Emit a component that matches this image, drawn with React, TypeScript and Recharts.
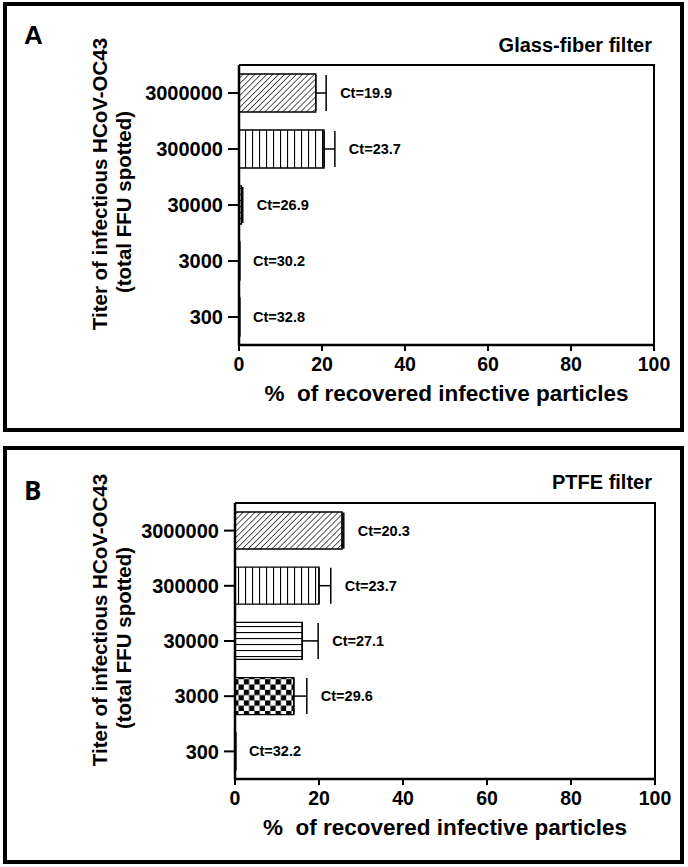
import React from "react";
import { BarChart, Bar, XAxis, YAxis, ErrorBar, LabelList, Cell } from "recharts";

const titers = ["3000000", "300000", "30000", "3000", "300"];
const xTicks = [0, 20, 40, 60, 80, 100];

// Glass-fiber filter (panel A)
const glassValues = [18.5, 20.5, 0.6, 0, 0];
const glassErrors = [2.5, 2.6, 0.3, 0, 0];
const glassCt = ["19.9", "23.7", "26.9", "30.2", "32.8"];

// PTFE filter (panel B)
const ptfeValues = [25.5, 20.0, 16.0, 14.0, 0];
const ptfeErrors = [0.4, 2.8, 3.8, 3.1, 0];
const ptfeCt = ["20.3", "23.7", "27.1", "29.6", "32.2"];

const FILLS = ["diag", "vert", "horiz", "check", "none"];
const FONT = "'Liberation Sans', Arial, sans-serif";

interface PanelProps {
  id: string;
  letter: string;
  letterFont: string;
  title: string;
  values: number[];
  errors: number[];
  cts: string[];
  top: number;
  height: number;
  plotLeft: number;
  plotTop: number;
  plotRight: number;
  plotBottom: number;
  barSize: number;
}

const Panel: React.FC<PanelProps> = (p) => {
  const rows = titers.map((t, i) => ({
    titer: t,
    value: p.values[i],
    err: p.errors[i] > 0 ? [0, p.errors[i]] : null,
  }));
  const plotW = p.plotRight - p.plotLeft;
  const plotH = p.plotBottom - p.plotTop;
  const xAxisH = 40;

  // Ct label sits just right of the error bar end
  const renderCt = (props: any) => {
    const { x, y, width, height, index } = props;
    const e = p.errors[index] || 0;
    const v = p.values[index] || 0;
    const end = v > 0 ? Number(x) + Number(width) * (1 + e / v) : Number(x);
    return (
      <text
        x={end + 14}
        y={Number(y) + Number(height) / 2}
        dominantBaseline="central"
        fontSize={14.5}
        fontWeight={700}
        fontFamily={FONT}
        fill="#000"
      >
        {`Ct=${p.cts[index]}`}
      </text>
    );
  };

  const fillFor = (i: number) =>
    FILLS[i] === "none" ? "#fff" : `url(#${p.id}-${FILLS[i]})`;

  return (
    <div
      style={{
        position: "absolute",
        left: 0,
        top: p.top,
        width: 688,
        height: p.height,
        fontFamily: FONT,
      }}
    >
      {/* outer frame */}
      <div
        style={{
          position: "absolute",
          left: 3,
          top: 0,
          width: 681,
          height: p.height,
          border: "4px solid #000",
          boxSizing: "border-box",
        }}
      />
      <div
        style={{
          position: "absolute",
          left: 24,
          top: p.letter === "A" ? 18 : 26,
          fontSize: 26,
          fontWeight: 700,
          fontFamily: p.letterFont,
        }}
      >
        {p.letter}
      </div>
      <div
        style={{
          position: "absolute",
          right: 688 - 652,
          top: p.letter === "A" ? 32 : 25,
          fontSize: 20,
          fontWeight: 700,
          whiteSpace: "nowrap",
        }}
      >
        {p.title}
      </div>
      {/* y-axis title, two lines */}
      {[
        { text: "Titer of infectious HCoV-OC43", cx: 100, cy: p.plotTop + plotH / 2 - 21 },
        { text: "(total FFU spotted)", cx: 124, cy: p.plotTop + plotH / 2 - 3 },
      ].map((l) => (
        <div
          key={l.text}
          style={{
            position: "absolute",
            left: l.cx,
            top: l.cy,
            transform: "translate(-50%, -50%) rotate(-90deg)",
            fontSize: 20.5,
            fontWeight: 700,
            whiteSpace: "nowrap",
            lineHeight: "22px",
          }}
        >
          {l.text}
        </div>
      ))}
      <div
        style={{
          position: "absolute",
          left: p.plotLeft + plotW / 2,
          top: p.plotBottom + 49,
          transform: "translate(-50%, -50%)",
          fontSize: 22.5,
          fontWeight: 700,
          whiteSpace: "pre",
        }}
      >
        {"%  of recovered infective particles"}
      </div>

      <div style={{ position: "absolute", left: 0, top: 0 }}>
        <BarChart
          width={688}
          height={p.height}
          data={rows}
          layout="vertical"
          margin={{
            top: p.plotTop,
            right: 688 - p.plotRight,
            left: 0,
            bottom: p.height - p.plotBottom - xAxisH,
          }}
        >
          <defs>
            <pattern id={`${p.id}-diag`} width={4.2} height={4.2} patternUnits="userSpaceOnUse" patternTransform="rotate(45)">
              <rect width={4.2} height={4.2} fill="#fff" />
              <line x1={0} y1={0} x2={0} y2={4.2} stroke="#000" strokeWidth={1.3} />
            </pattern>
            <pattern id={`${p.id}-vert`} width={7} height={7} patternUnits="userSpaceOnUse">
              <rect width={7} height={7} fill="#fff" />
              <line x1={0.5} y1={0} x2={0.5} y2={7} stroke="#000" strokeWidth={1.2} />
            </pattern>
            <pattern id={`${p.id}-horiz`} width={6} height={6} patternUnits="userSpaceOnUse">
              <rect width={6} height={6} fill="#fff" />
              <line x1={0} y1={0.5} x2={6} y2={0.5} stroke="#000" strokeWidth={1.2} />
            </pattern>
            <pattern id={`${p.id}-check`} width={10.6} height={10.6} patternUnits="userSpaceOnUse">
              <rect width={10.6} height={10.6} fill="#fff" />
              <rect x={0} y={0} width={5.3} height={5.3} fill="#000" />
              <rect x={5.3} y={5.3} width={5.3} height={5.3} fill="#000" />
            </pattern>
          </defs>
          <XAxis
            type="number"
            domain={[0, 100]}
            ticks={xTicks}
            height={xAxisH}
            axisLine={{ stroke: "#000", strokeWidth: 2.5 }}
            tickLine={{ stroke: "#000", strokeWidth: 2 }}
            tickSize={6}
            tickMargin={6}
            tick={{ fontSize: 19.5, fontWeight: 700, fill: "#000", fontFamily: FONT }}
          />
          <YAxis
            type="category"
            dataKey="titer"
            width={p.plotLeft}
            axisLine={{ stroke: "#000", strokeWidth: 2.5 }}
            tickLine={{ stroke: "#000", strokeWidth: 2 }}
            tickSize={11}
            tickMargin={5}
            tick={{ fontSize: 20, fontWeight: 700, fill: "#000", fontFamily: FONT }}
          />
          <Bar
            dataKey="value"
            barSize={p.barSize}
            minPointSize={1}
            stroke="#000"
            strokeWidth={1.3}
            isAnimationActive={false}
          >
            {rows.map((r, i) => (
              <Cell key={r.titer} fill={fillFor(i)} />
            ))}
            <ErrorBar
              dataKey="err"
              direction="x"
              width={18}
              stroke="#000"
              strokeWidth={1.5}
              isAnimationActive={false}
            />
            <LabelList dataKey="value" content={renderCt} />
          </Bar>
        </BarChart>
      </div>

      {/* top and right edges of plot frame */}
      <div
        style={{
          position: "absolute",
          left: p.plotLeft,
          top: p.plotTop - 1,
          width: plotW + 1,
          height: plotH + 1,
          borderTop: "2.5px solid #000",
          borderRight: "2.5px solid #000",
          boxSizing: "border-box",
          pointerEvents: "none",
        }}
      />
    </div>
  );
};

export default function App() {
  return (
    <div style={{ position: "absolute", left: 0, top: 0, width: 688, height: 867, background: "#fff" }}>
      <Panel
        id="glass"
        letter="A"
        letterFont={FONT}
        title="Glass-fiber filter"
        values={glassValues}
        errors={glassErrors}
        cts={glassCt}
        top={2}
        height={430}
        plotLeft={239}
        plotTop={63}
        plotRight={654}
        plotBottom={343}
        barSize={38}
      />
      <Panel
        id="ptfe"
        letter="B"
        letterFont="'Open Sans', sans-serif"
        title="PTFE filter"
        values={ptfeValues}
        errors={ptfeErrors}
        cts={ptfeCt}
        top={446}
        height={418}
        plotLeft={235}
        plotTop={57}
        plotRight={655}
        plotBottom={333}
        barSize={37}
      />
    </div>
  );
}
